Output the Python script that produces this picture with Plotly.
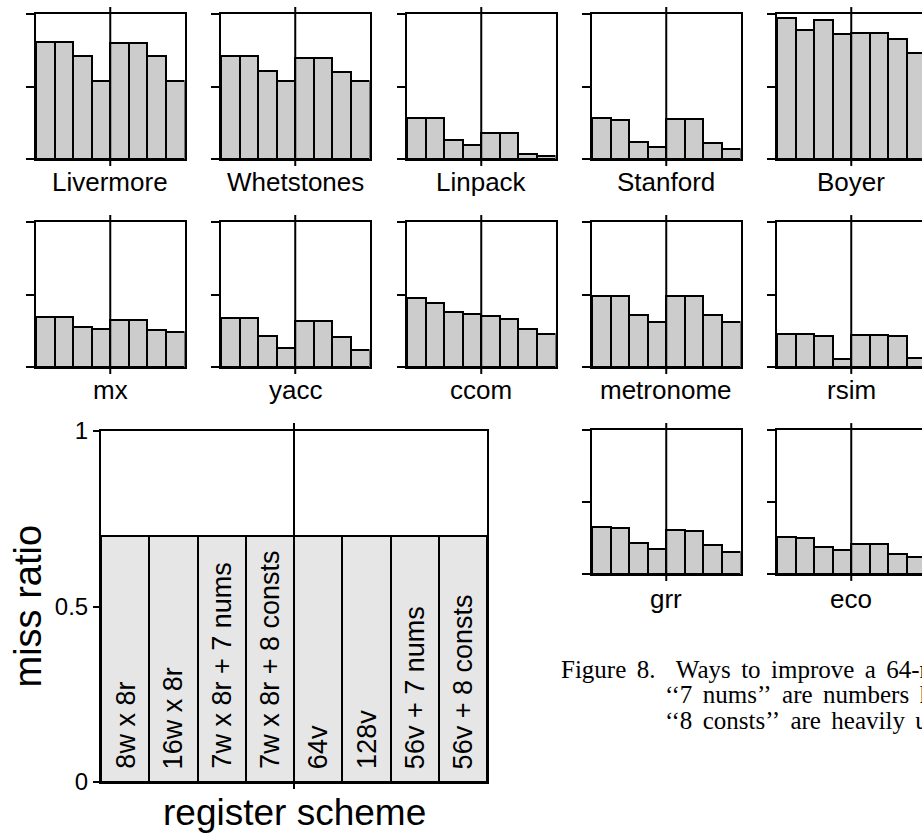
import plotly.graph_objects as go

W, H = 922, 833

# register schemes, in bar order
schemes = ["8w x 8r", "16w x 8r", "7w x 8r + 7 nums", "7w x 8r + 8 consts",
           "64v", "128v", "56v + 7 nums", "56v + 8 consts"]

# miss ratio per benchmark, one value per scheme
livermore = [0.81, 0.81, 0.71, 0.535, 0.80, 0.80, 0.71, 0.535]
whetstones = [0.71, 0.71, 0.61, 0.54, 0.70, 0.70, 0.60, 0.54]
linpack = [0.284, 0.284, 0.134, 0.10, 0.18, 0.18, 0.035, 0.02]
stanford = [0.284, 0.27, 0.12, 0.083, 0.275, 0.275, 0.11, 0.07]
boyer = [0.97, 0.89, 0.96, 0.86, 0.87, 0.87, 0.83, 0.73]
mx = [0.346, 0.346, 0.277, 0.259, 0.321, 0.321, 0.252, 0.24]
yacc = [0.335, 0.335, 0.215, 0.13, 0.32, 0.32, 0.205, 0.115]
ccom = [0.476, 0.44, 0.38, 0.363, 0.353, 0.333, 0.263, 0.23]
metronome = [0.49, 0.49, 0.358, 0.307, 0.49, 0.49, 0.358, 0.307]
rsim = [0.23, 0.23, 0.212, 0.058, 0.22, 0.22, 0.212, 0.06]
grr = [0.329, 0.32, 0.218, 0.176, 0.308, 0.299, 0.199, 0.155]
eco = [0.259, 0.25, 0.19, 0.167, 0.208, 0.208, 0.139, 0.12]

# key panel: bar heights used to show the scheme layout
key_heights = [0.70, 0.70, 0.70, 0.70, 0.70, 0.70, 0.70, 0.70]

key_ticks = [0, 0.5, 1]
key_tick_text = ["0", "0.5", "1"]

caption = [
    "Figure 8.  Ways to improve a 64-register scheme.",
    "\u2018\u20187 nums\u2019\u2019 are numbers kept in registers.",
    "\u2018\u20188 consts\u2019\u2019 are heavily used constants.",
]

# (name, values, row, column)
panels = [
    ("Livermore", livermore, 0, 0), ("Whetstones", whetstones, 0, 1),
    ("Linpack", linpack, 0, 2), ("Stanford", stanford, 0, 3),
    ("Boyer", boyer, 0, 4),
    ("mx", mx, 1, 0), ("yacc", yacc, 1, 1), ("ccom", ccom, 1, 2),
    ("metronome", metronome, 1, 3), ("rsim", rsim, 1, 4),
    ("grr", grr, 2, 3), ("eco", eco, 2, 4),
]

# pixel geometry of the small-multiple grid
COL_LEFT = [36, 221, 407, 592, 777]
PANEL_W = 148.5
ROW_Y = [(14, 159), (222, 367), (430, 574)]
LABEL_Y = [182, 390, 599]

SANS = "Liberation Sans, Arial, Helvetica, sans-serif"
SERIF = "Liberation Serif, Times New Roman, serif"


def px_x(v):
    return v / W


def px_y(v):
    return 1 - v / H


def ax_names(k):
    s = "" if k == 1 else str(k)
    return "x" + s, "y" + s, "xaxis" + s, "yaxis" + s


def justified(text):
    # widen inter-word gaps the way a justified troff line spreads them
    return text.replace(" ", "\u2006 ")


fig = go.Figure()
layout_axes = {}
shapes = []
annotations = []
n_bars = len(schemes)
idx = list(range(n_bars))

for k, (name, vals, row, col) in enumerate(panels, start=1):
    xr, yr, xkey, ykey = ax_names(k)
    left = COL_LEFT[col]
    right = min(left + PANEL_W, W)
    cropped = left + PANEL_W > W
    top, bottom = ROW_Y[row]
    fig.add_trace(go.Bar(
        x=idx, y=vals, width=1, xaxis=xr, yaxis=yr,
        marker=dict(color="#cccccc", line=dict(color="black", width=2)),
        showlegend=False, hoverinfo="skip",
    ))
    layout_axes[xkey] = dict(
        domain=[px_x(left), px_x(right)],
        range=[-0.5, -0.5 + n_bars * (right - left) / PANEL_W],
        showline=True, linecolor="black", linewidth=2, mirror=True,
        showticklabels=False, ticks="", showgrid=False, zeroline=False,
        fixedrange=True, automargin=False, anchor=yr,
    )
    layout_axes[ykey] = dict(
        domain=[px_y(bottom), px_y(top)], range=[0, 1],
        showline=True, linecolor="black", linewidth=2, mirror=not cropped,
        tickvals=key_ticks, ticks="outside", ticklen=8, tickwidth=2,
        tickcolor="black", showticklabels=False, showgrid=False,
        zeroline=False, fixedrange=True, automargin=False, anchor=xr,
    )
    shapes.append(dict(
        type="line", xref=xr, yref=yr + " domain", x0=3.5, x1=3.5,
        y0=-0.048, y1=1.048, line=dict(color="black", width=2),
    ))
    annotations.append(dict(
        text=name, xref="paper", yref="paper",
        x=px_x(left + PANEL_W / 2), y=px_y(LABEL_Y[row]),
        xanchor="center", yanchor="middle", showarrow=False,
        font=dict(family=SANS, size=26, color="black"),
    ))

# key panel with the scheme names
k = len(panels) + 1
xr, yr, xkey, ykey = ax_names(k)
KX0, KX1, KY0, KY1 = 101, 487, 431, 782
fig.add_trace(go.Bar(
    x=idx, y=key_heights, width=1, xaxis=xr, yaxis=yr,
    marker=dict(color="#e6e6e6", line=dict(color="black", width=2)),
    showlegend=False, hoverinfo="skip",
))
layout_axes[xkey] = dict(
    domain=[px_x(KX0), px_x(KX1)], range=[-0.5, n_bars - 0.5],
    showline=True, linecolor="black", linewidth=2, mirror=True,
    showticklabels=False, ticks="", showgrid=False, zeroline=False,
    fixedrange=True, automargin=False, anchor=yr,
)
layout_axes[ykey] = dict(
    domain=[px_y(KY1), px_y(KY0)], range=[0, 1],
    showline=True, linecolor="black", linewidth=2, mirror=True,
    tickvals=key_ticks, ticktext=key_tick_text, ticks="outside",
    ticklen=6, tickwidth=2, tickcolor="black",
    tickfont=dict(family=SANS, size=24, color="black"),
    showgrid=False, zeroline=False, fixedrange=True, automargin=False,
    anchor=xr,
)
shapes.append(dict(
    type="line", xref=xr, yref=yr + " domain", x0=3.5, x1=3.5,
    y0=-0.02, y1=1.023, line=dict(color="black", width=2),
))
for i, label in enumerate(schemes):
    annotations.append(dict(
        text=label, xref=xr, yref=yr, x=i, y=0, yshift=11,
        textangle=-90, xanchor="center", yanchor="bottom", showarrow=False,
        font=dict(family=SANS, size=27, color="black"),
    ))
annotations.append(dict(
    text="miss ratio", xref="paper", yref="paper",
    x=px_x(27), y=px_y((KY0 + KY1) / 2), textangle=-90,
    xanchor="center", yanchor="middle", showarrow=False,
    font=dict(family=SANS, size=38, color="black"),
))
annotations.append(dict(
    text="register scheme", xref="paper", yref="paper",
    x=px_x((KX0 + KX1) / 2), y=px_y(812),
    xanchor="center", yanchor="middle", showarrow=False,
    font=dict(family=SANS, size=37, color="black"),
))

# figure caption
for text, cx, cy in zip(caption, [559, 663, 663], [669, 694.5, 720]):
    annotations.append(dict(
        text=justified(text), xref="paper", yref="paper",
        x=px_x(cx), y=px_y(cy),
        xanchor="left", yanchor="middle", showarrow=False,
        font=dict(family=SERIF, size=25, color="black"),
    ))

fig.update_layout(
    template="none",
    width=W, height=H, margin=dict(l=0, r=0, t=0, b=0, pad=0),
    paper_bgcolor="white", plot_bgcolor="white",
    bargap=0, shapes=shapes, annotations=annotations,
    **layout_axes,
)

fig.write_html("out.html", config={"displayModeBar": False})
